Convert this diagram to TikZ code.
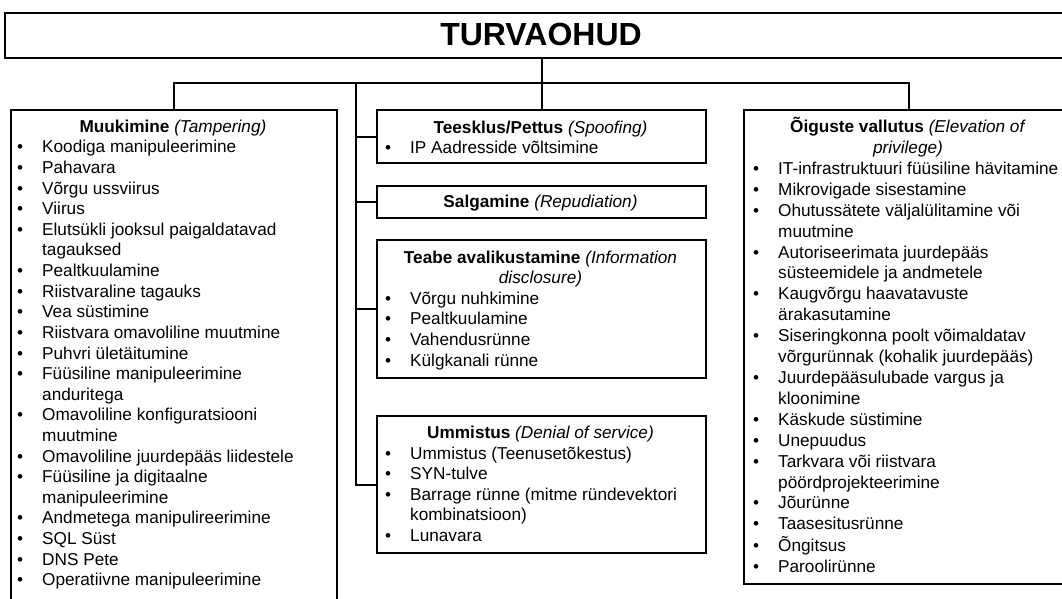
\documentclass[tikz,border=0pt]{standalone}
\usepackage{fontspec}
\setmainfont{Liberation Sans}
\newcommand{\hd}[2]{\textbf{#1} \textit{#2}}
\begin{document}
\begin{tikzpicture}[x=1pt,y=-1pt,
  box/.style={draw,line width=2pt,rectangle,inner sep=0pt,anchor=north west},
  link/.style={line width=2pt},
  hdr/.style={anchor=base,inner sep=0pt,font=\fontsize{17.2}{20.6}\selectfont},
  lst/.style={anchor=base west,inner sep=0pt,font=\fontsize{17.2}{20.6}\selectfont}]
\useasboundingbox (0,0) rectangle (1062,599);
% boxes
\node[box,line width=2.4pt,minimum width=1074pt,minimum height=45pt] (title) at (4,12) {};
\node[box,minimum width=326pt,minimum height=496pt] (muuk) at (10,109) {};
\node[box,minimum width=329pt,minimum height=53pt] (spoof) at (376,109) {};
\node[box,minimum width=329pt,minimum height=32pt] (repud) at (376,185) {};
\node[box,minimum width=329pt,minimum height=138pt] (info) at (376,239) {};
\node[box,minimum width=329pt,minimum height=137pt] (dos) at (376,415) {};
\node[box,minimum width=330pt,minimum height=474pt] (elev) at (743,109) {};
% title
\node[anchor=base,inner sep=0pt,font=\fontsize{32}{38}\selectfont\bfseries] (ttext) at (541,45.5) {TURVAOHUD};
% connectors
\coordinate (bus) at (356,83);
\draw[link] (spoof.north |- title.south) -- (spoof.north);
\draw[link] (muuk.north) |- (elev.north |- bus) -- (elev.north);
\draw[link] (bus) |- (dos.west);
\draw[link] (bus |- spoof.west) -- (spoof.west);
\draw[link] (bus |- repud.west) -- (repud.west);
\draw[link] (bus |- info.west) -- (info.west);
% Muukimine
\node[hdr] (h1) at (173,132.5) {\hd{Muukimine}{(Tampering)}};
\node[lst] (l1) at (17,153) {\begin{tabular}[t]{@{}p{25pt}@{}l@{}}
\textbullet & Koodiga manipuleerimine\\
\textbullet & Pahavara\\
\textbullet & Võrgu ussviirus\\
\textbullet & Viirus\\
\textbullet & Elutsükli jooksul paigaldatavad\\
 & tagauksed\\
\textbullet & Pealtkuulamine\\
\textbullet & Riistvaraline tagauks\\
\textbullet & Vea süstimine\\
\textbullet & Riistvara omavoliline muutmine\\
\textbullet & Puhvri ületäitumine\\
\textbullet & Füüsiline manipuleerimine\\
 & anduritega\\
\textbullet & Omavoliline konfiguratsiooni\\
 & muutmine\\
\textbullet & Omavoliline juurdepääs liidestele\\
\textbullet & Füüsiline ja digitaalne\\
 & manipuleerimine\\
\textbullet & Andmetega manipulireerimine\\
\textbullet & SQL Süst\\
\textbullet & DNS Pete\\
\textbullet & Operatiivne manipuleerimine
\end{tabular}};
% Teesklus
\node[hdr] (h2) at (540.5,133) {\hd{Teesklus/Pettus}{(Spoofing)}};
\node[lst] (l2) at (385,153.5) {\begin{tabular}[t]{@{}p{25pt}@{}l@{}}
\textbullet & IP Aadresside võltsimine
\end{tabular}};
% Salgamine
\node[hdr] (h3) at (540.5,207) {\hd{Salgamine}{(Repudiation)}};
% Teabe
\node[hdr] (h4) at (540.5,263) {\begin{tabular}[t]{@{}c@{}}
\hd{Teabe avalikustamine}{(Information}\\ \textit{disclosure)}
\end{tabular}};
\node[lst] (l4) at (385,304.2) {\begin{tabular}[t]{@{}p{25pt}@{}l@{}}
\textbullet & Võrgu nuhkimine\\
\textbullet & Pealtkuulamine\\
\textbullet & Vahendusrünne\\
\textbullet & Külgkanali rünne
\end{tabular}};
% Ummistus
\node[hdr] (h5) at (540.5,438) {\hd{Ummistus}{(Denial of service)}};
\node[lst] (l5) at (385,459) {\begin{tabular}[t]{@{}p{25pt}@{}l@{}}
\textbullet & Ummistus (Teenusetõkestus)\\
\textbullet & SYN-tulve\\
\textbullet & Barrage rünne (mitme ründevektori\\
 & kombinatsioon)\\
\textbullet & Lunavara
\end{tabular}};
% Oiguste
\node[hdr] (h6) at (908,132.5) {\begin{tabular}[t]{@{}c@{}}
\hd{Õiguste vallutus}{(Elevation of}\\ \textit{privilege)}
\end{tabular}};
\node[lst,font=\fontsize{17.2}{20.9}\selectfont] (l6) at (753,174.5) {\begin{tabular}[t]{@{}p{25pt}@{}l@{}}
\textbullet & IT-infrastruktuuri füüsiline hävitamine\\
\textbullet & Mikrovigade sisestamine\\
\textbullet & Ohutussätete väljalülitamine või\\
 & muutmine\\
\textbullet & Autoriseerimata juurdepääs\\
 & süsteemidele ja andmetele\\
\textbullet & Kaugvõrgu haavatavuste\\
 & ärakasutamine\\
\textbullet & Siseringkonna poolt võimaldatav\\
 & võrgurünnak (kohalik juurdepääs)\\
\textbullet & Juurdepääsulubade vargus ja\\
 & kloonimine\\
\textbullet & Käskude süstimine\\
\textbullet & Unepuudus\\
\textbullet & Tarkvara või riistvara\\
 & pöördprojekteerimine\\
\textbullet & Jõurünne\\
\textbullet & Taasesitusrünne\\
\textbullet & Õngitsus\\
\textbullet & Paroolirünne
\end{tabular}};
\end{tikzpicture}
\end{document}
